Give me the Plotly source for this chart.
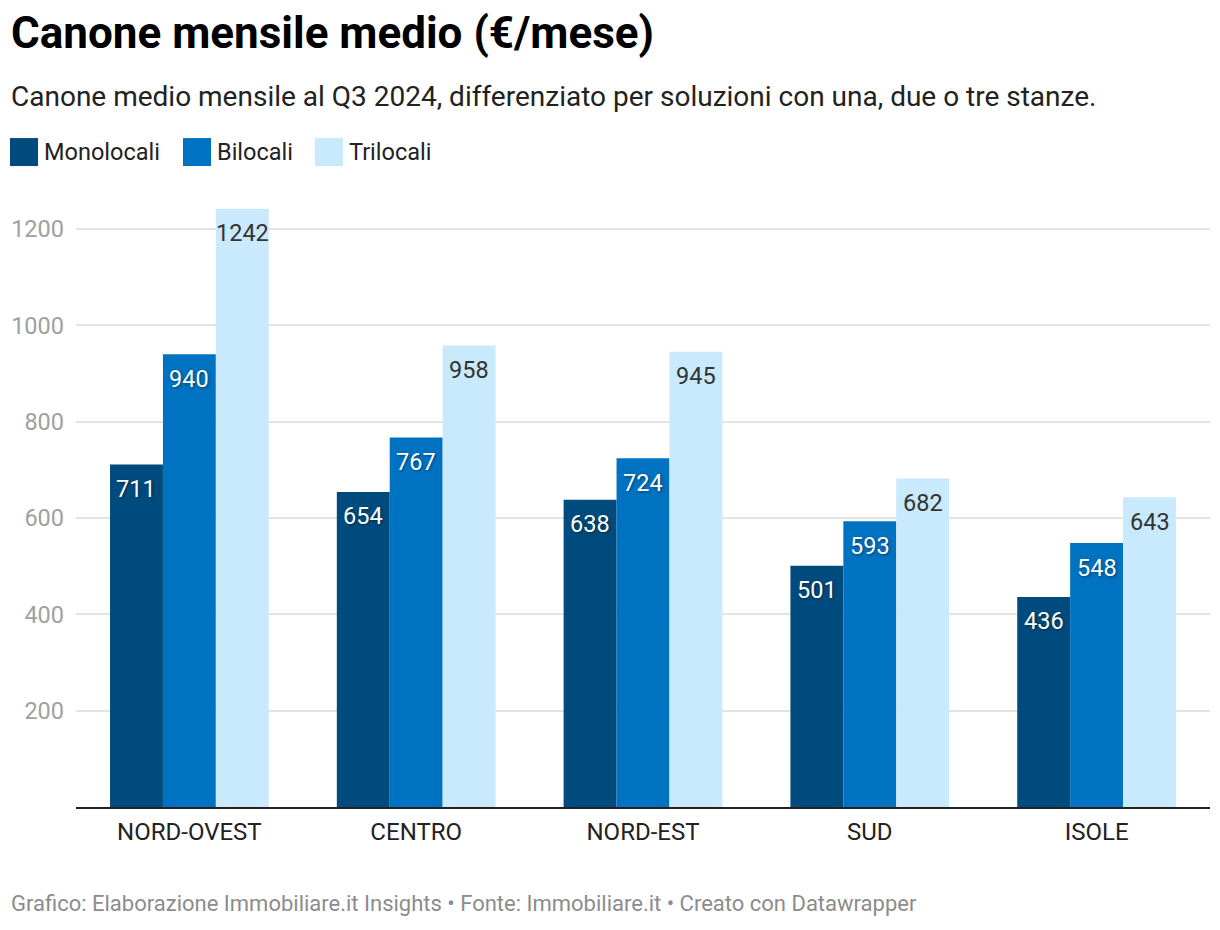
import plotly.graph_objects as go

# ---- data ----
regions = ["NORD-OVEST", "CENTRO", "NORD-EST", "SUD", "ISOLE"]
monolocali = [711, 654, 638, 501, 436]
bilocali = [940, 767, 724, 593, 548]
trilocali = [1242, 958, 945, 682, 643]
series_names = ["Monolocali", "Bilocali", "Trilocali"]
y_ticks = [200, 400, 600, 800, 1000, 1200]

title_text = "Canone mensile medio (€/mese)"
subtitle_text = "Canone medio mensile al Q3 2024, differenziato per soluzioni con una, due o tre stanze."
footer_text = "Grafico: Elaborazione Immobiliare.it Insights • Fonte: Immobiliare.it • Creato con Datawrapper"

# ---- style ----
OFF = 8  # page body margin
W, H = 1220 - OFF, 930 - OFF
PLOT_L, PLOT_R, PLOT_T, PLOT_B = 76, 1210, 200, 807.5  # window pixel coords
ML = PLOT_L - OFF
MR = W - (PLOT_R - OFF)
MT = PLOT_T - OFF
MB = H - (PLOT_B - OFF)
colors = ["#004b7d", "#0072c2", "#c9eafd"]
text_colors = ["#ffffff", "#ffffff", "#333333"]
FONT = "Roboto"
BARGAP = 0.3

PW = PLOT_R - PLOT_L
PH = PLOT_B - PLOT_T
SCALE = (807.5 - 229) / 1200  # px per unit
BAR_PX = PW / len(regions) * (1 - BARGAP) / len(series_names)


def px_x(px):
    return (px - PLOT_L) / PW


def px_y(py):
    return (PLOT_B - py) / PH


fig = go.Figure()
annotations = []
all_series = [monolocali, bilocali, trilocali]
for i, (name, vals, col, tcol) in enumerate(zip(series_names, all_series, colors, text_colors)):
    fig.add_trace(go.Bar(
        x=regions, y=vals, name=name,
        marker=dict(color=col, line=dict(width=0)),
        hoverinfo="skip",
        showlegend=False,
    ))
    for reg, v in zip(regions, vals):
        annotations.append(dict(
            text=str(v), x=reg, y=v, xref="x", yref="y",
            xanchor="center", yanchor="top", showarrow=False,
            xshift=(i - (len(series_names) - 1) / 2) * BAR_PX, yshift=-8.5,
            font=dict(family=FONT, size=23.5, color=tcol,
                      shadow=("1px 1px 3px rgba(0,0,0,0.45)" if tcol == "#ffffff" else "none")),
        ))

annotations += [
    dict(text="<b>" + title_text + "</b>", x=px_x(9), y=px_y(32.5), xref="paper", yref="paper",
         xanchor="left", yanchor="middle", showarrow=False,
         font=dict(family=FONT, size=44, color="#000000")),
    dict(text=subtitle_text, x=px_x(9), y=px_y(78), xref="paper", yref="paper",
         xanchor="left", yanchor="top", showarrow=False,
         font=dict(family=FONT, size=28, color="#222222")),
    dict(text=footer_text, x=px_x(9), y=px_y(890), xref="paper", yref="paper",
         xanchor="left", yanchor="top", showarrow=False,
         font=dict(family=FONT, size=22, color="#8c8c8c")),
]

shapes = []
legend_sq_x = [10, 183, 315]
for name, col, sx in zip(series_names, colors, legend_sq_x):
    shapes.append(dict(type="rect", xref="paper", yref="paper",
                       x0=px_x(sx), x1=px_x(sx + 28), y0=px_y(166), y1=px_y(138),
                       fillcolor=col, line=dict(width=0)))
    annotations.append(dict(text=name, x=px_x(sx + 32), y=px_y(152), xref="paper", yref="paper",
                            xanchor="left", yanchor="middle", showarrow=False,
                            font=dict(family=FONT, size=23.5, color="#222222")))

fig.update_layout(
    width=W, height=H,
    margin=dict(l=ML, r=MR, t=MT, b=MB, autoexpand=False),
    paper_bgcolor="white", plot_bgcolor="white",
    barmode="group", bargap=BARGAP, bargroupgap=0,
    font=dict(family=FONT),
    annotations=annotations, shapes=shapes,
    xaxis=dict(showgrid=False, showline=True, linecolor="#222222", linewidth=2,
               ticks="", ticklabelstandoff=2,
               tickfont=dict(family=FONT, size=24, color="#222222"),
               fixedrange=True),
    yaxis=dict(range=[0, PH / SCALE], tickvals=y_ticks, showgrid=True,
               gridcolor="#e4e4e4", gridwidth=2, zeroline=False, showline=False,
               ticks="", ticklabelstandoff=11,
               tickfont=dict(family=FONT, size=23.5, color="#a0a0a0"),
               fixedrange=True),
)

fig.write_html("out.html")
